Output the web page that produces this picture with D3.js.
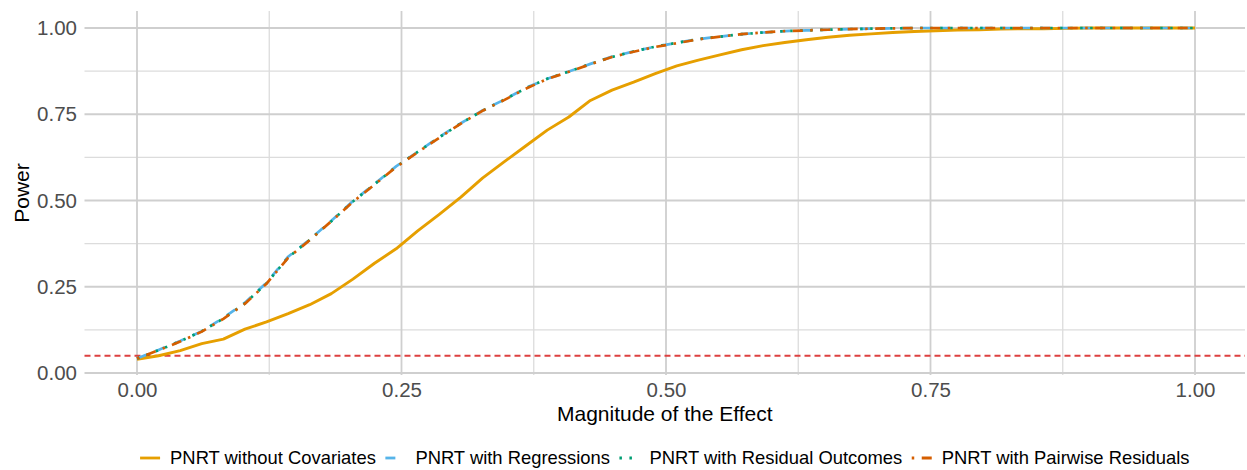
<!DOCTYPE html>
<html>
<head>
<meta charset="utf-8">
<script src="https://cdn.jsdelivr.net/npm/d3@7"></script>
<style>
  html, body { margin: 0; padding: 0; background: #fff; }
  svg { display: block; font-family: "Liberation Sans", Arial, sans-serif; }
</style>
</head>
<body>
<svg id="chart" width="1247" height="470"></svg>
<script>
// ---- data ----
const effect = d3.range(50).map(i => i / 49); // seq(0, 1, length.out = 50)

const noCovariates = [0.040, 0.050, 0.065, 0.085, 0.098, 0.127, 0.148, 0.172, 0.198, 0.230,
  0.272, 0.318, 0.360, 0.412, 0.460, 0.510, 0.565, 0.612, 0.658, 0.704,
  0.742, 0.790, 0.820, 0.843, 0.868, 0.890, 0.907, 0.922, 0.937, 0.949,
  0.958, 0.966, 0.973, 0.979, 0.983, 0.987, 0.990, 0.992, 0.994, 0.995,
  0.997, 0.998, 0.998, 0.999, 1.000, 1.000, 1.000, 1.000, 1.000, 1.000];

const withRegressions = [0.042, 0.067, 0.093, 0.121, 0.160, 0.204, 0.262, 0.337, 0.387, 0.441,
  0.498, 0.548, 0.599, 0.641, 0.684, 0.724, 0.761, 0.792, 0.826, 0.853,
  0.874, 0.896, 0.917, 0.932, 0.946, 0.957, 0.968, 0.975, 0.982, 0.987,
  0.991, 0.993, 0.995, 0.997, 0.998, 0.999, 1.000, 1.000, 1.000, 1.000,
  1.000, 1.000, 1.000, 1.000, 1.000, 1.000, 1.000, 1.000, 1.000, 1.000];

const residualOutcomes = [0.042, 0.066, 0.092, 0.121, 0.158, 0.202, 0.260, 0.335, 0.386, 0.440,
  0.497, 0.547, 0.598, 0.641, 0.683, 0.724, 0.760, 0.792, 0.825, 0.853,
  0.874, 0.896, 0.916, 0.932, 0.946, 0.957, 0.968, 0.975, 0.982, 0.987,
  0.991, 0.993, 0.995, 0.997, 0.998, 0.999, 1.000, 1.000, 1.000, 1.000,
  1.000, 1.000, 1.000, 1.000, 1.000, 1.000, 1.000, 1.000, 1.000, 1.000];

const pairwiseResiduals = [0.042, 0.066, 0.091, 0.120, 0.157, 0.201, 0.259, 0.334, 0.385, 0.440,
  0.496, 0.546, 0.597, 0.640, 0.682, 0.723, 0.760, 0.791, 0.824, 0.852,
  0.873, 0.895, 0.916, 0.931, 0.945, 0.956, 0.967, 0.975, 0.982, 0.987,
  0.991, 0.993, 0.995, 0.997, 0.998, 0.999, 1.000, 1.000, 1.000, 1.000,
  1.000, 1.000, 1.000, 1.000, 1.000, 1.000, 1.000, 1.000, 1.000, 1.000];

const seriesNames = ["PNRT without Covariates", "PNRT with Regressions",
  "PNRT with Residual Outcomes", "PNRT with Pairwise Residuals"];
const seriesColors = ["#E69F00", "#56B4E9", "#009E73", "#D55E00"];
const seriesDash = [null, "10,10", "2.5,7.5", "2.5,7.5,10,7.5"];
const seriesValues = [noCovariates, withRegressions, residualOutcomes, pairwiseResiduals];

const majorTicks = [0, 0.25, 0.5, 0.75, 1];
const minorTicks = [0.125, 0.375, 0.625, 0.875];
const alphaLevel = 0.05;

const xTitle = "Magnitude of the Effect";
const yTitle = "Power";

// ---- layout ----
const svg = d3.select("#chart");
const panel = { left: 84.5, right: 1245, top: 11, bottom: 375 };
const x = d3.scaleLinear().domain([0, 1]).range([137, 1195]);
const y = d3.scaleLinear().domain([0, 1]).range([373, 28]);

// grid
const grid = svg.append("g");
grid.selectAll("line.hminor").data(minorTicks).join("line")
  .attr("x1", panel.left).attr("x2", panel.right)
  .attr("y1", d => y(d)).attr("y2", d => y(d))
  .attr("stroke", "#dcdcdc").attr("stroke-width", 1.3);
grid.selectAll("line.vminor").data(minorTicks).join("line")
  .attr("y1", panel.top).attr("y2", panel.bottom)
  .attr("x1", d => x(d)).attr("x2", d => x(d))
  .attr("stroke", "#dcdcdc").attr("stroke-width", 1.3);
grid.selectAll("line.hmajor").data(majorTicks).join("line")
  .attr("x1", panel.left).attr("x2", panel.right)
  .attr("y1", d => y(d)).attr("y2", d => y(d))
  .attr("stroke", "#cfcfcf").attr("stroke-width", 1.8);
grid.selectAll("line.vmajor").data(majorTicks).join("line")
  .attr("y1", panel.top).attr("y2", panel.bottom)
  .attr("x1", d => x(d)).attr("x2", d => x(d))
  .attr("stroke", "#cfcfcf").attr("stroke-width", 1.8);

// reference line at alpha
svg.append("line")
  .attr("x1", panel.left).attr("x2", panel.right)
  .attr("y1", y(alphaLevel)).attr("y2", y(alphaLevel))
  .attr("stroke", "#dd4040").attr("stroke-width", 1.8)
  .attr("stroke-dasharray", "6,4");

// lines
const line = d3.line().x((d, i) => x(effect[i])).y(d => y(d));
seriesValues.forEach((vals, k) => {
  svg.append("path")
    .datum(vals)
    .attr("d", line)
    .attr("fill", "none")
    .attr("stroke", seriesColors[k])
    .attr("stroke-width", k === 0 ? 2.9 : 2.7)
    .attr("stroke-linejoin", "round")
    .attr("stroke-dasharray", seriesDash[k]);
});

// axes
const fmt = d3.format(".2f");
const xAxis = svg.append("g")
  .attr("transform", `translate(0,${panel.bottom})`)
  .call(d3.axisBottom(x).tickValues(majorTicks).tickFormat(fmt).tickSize(0).tickPadding(7));
const yAxis = svg.append("g")
  .attr("transform", `translate(${panel.left},0)`)
  .call(d3.axisLeft(y).tickValues(majorTicks).tickFormat(fmt).tickSize(0).tickPadding(7.5));
[xAxis, yAxis].forEach(g => {
  g.select(".domain").remove();
  g.selectAll("text")
    .attr("font-size", 20.5)
    .attr("fill", "#4d4d4d")
    .attr("font-family", "'Liberation Sans', Arial, sans-serif");
});

// titles
svg.append("text")
  .attr("x", (panel.left + panel.right) / 2).attr("y", 421)
  .attr("text-anchor", "middle").attr("font-size", 21).attr("fill", "#000")
  .text(xTitle);
svg.append("text")
  .attr("transform", `translate(29,${(panel.top + panel.bottom) / 2}) rotate(-90)`)
  .attr("text-anchor", "middle").attr("font-size", 21).attr("fill", "#000")
  .text(yTitle);

// legend
const legend = svg.append("g");
const keyLen = 20, keyToText = 30, gap = 9.5, legendY = 458;
const items = legend.selectAll("g.item").data(seriesNames).join("g");
items.append("line")
  .attr("x1", 0).attr("x2", keyLen)
  .attr("y1", 0).attr("y2", 0)
  .attr("stroke", (d, i) => seriesColors[i])
  .attr("stroke-width", 2.8)
  .attr("stroke-dasharray", (d, i) => seriesDash[i]);
items.append("text")
  .attr("x", keyToText).attr("y", 0).attr("dy", "0.35em")
  .attr("font-size", 18.4).attr("fill", "#000")
  .text(d => d);
let offsets = [], cur = 0;
items.each(function () {
  offsets.push(cur);
  const w = d3.select(this).select("text").node().getComputedTextLength();
  cur += keyToText + w + gap;
});
const total = cur - gap;
const startX = (panel.left + panel.right) / 2 - total / 2;
items.attr("transform", (d, i) => `translate(${startX + offsets[i]},${legendY})`);
</script>
</body>
</html>
